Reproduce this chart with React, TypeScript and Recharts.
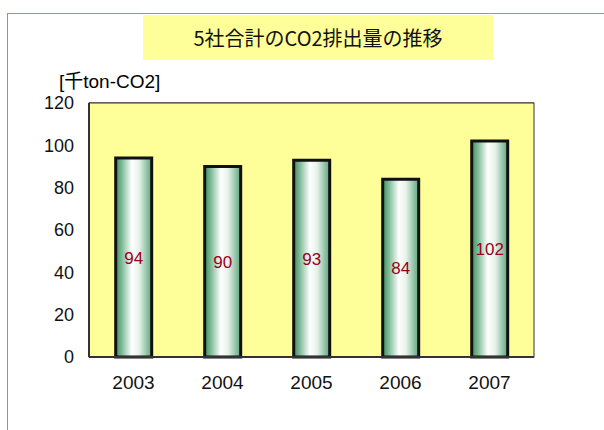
import { Bar, BarChart, CartesianGrid, LabelList, XAxis, YAxis } from "recharts";

const years = ["2003", "2004", "2005", "2006", "2007"];
const emissions = [94, 90, 93, 84, 102];
const yTicks = [0, 20, 40, 60, 80, 100, 120];

const data = years.map((year, i) => ({ year, value: emissions[i] }));

const FONT = "'Liberation Sans', Arial, sans-serif";

export default function App() {
  return (
    <div
      style={{
        position: "absolute",
        left: 0,
        top: 0,
        width: 604,
        height: 430,
        background: "#fff",
        overflow: "hidden",
        fontFamily: FONT,
      }}
    >
      <div
        style={{
          position: "absolute",
          left: 7,
          top: 13,
          width: 640,
          height: 460,
          borderTop: "1.5px solid #F27A35",
          borderLeft: "1.5px solid #F27A35",
        }}
      />
      <div
        style={{
          position: "absolute",
          left: 143,
          top: 15,
          width: 350,
          height: 45,
          background: "#FFFF99",
          display: "flex",
          alignItems: "center",
          justifyContent: "center",
          fontFamily: "'Noto Sans CJK JP', sans-serif",
          fontSize: 20,
          color: "#111",
        }}
      >
        5社合計のCO2排出量の推移
      </div>
      <div
        style={{
          position: "absolute",
          left: 59,
          top: 66,
          fontSize: 19,
          color: "#000",
          fontFamily: "'Liberation Sans', 'Noto Sans CJK JP', sans-serif",
        }}
      >
        [千ton-CO2]
      </div>
      <BarChart
        width={604}
        height={430}
        data={data}
        margin={{ top: 103, right: 70, left: 0, bottom: 43 }}
        barCategoryGap="30%"
        style={{ position: "absolute", left: 0, top: 0 }}
      >
        <defs>
          <linearGradient id="barFill" x1="0" y1="0" x2="1" y2="0">
            <stop offset="0%" stopColor="#3E8E60" />
            <stop offset="20%" stopColor="#8CC2A2" />
            <stop offset="45%" stopColor="#FFFFFF" />
            <stop offset="65%" stopColor="#E6F2EA" />
            <stop offset="100%" stopColor="#5BA67C" />
          </linearGradient>
        </defs>
        <rect x={89} y={103} width={445} height={254} fill="#FFFF99" stroke="#333" strokeWidth={1} />
        <CartesianGrid vertical={false} stroke="#222" strokeWidth={1} fill="#FFFF99" />
        <XAxis
          dataKey="year"
          tick={{ fontSize: 19, fill: "#111", fontFamily: FONT }}
          axisLine={{ stroke: "#333", strokeWidth: 2 }}
          tickLine={false}
          tickSize={0}
          tickMargin={19}
        />
        <YAxis
          domain={[0, 120]}
          ticks={yTicks}
          width={89}
          tick={{ fontSize: 18, fill: "#111", fontFamily: FONT }}
          axisLine={{ stroke: "#333", strokeWidth: 2 }}
          tickLine={false}
          tickSize={0}
          tickMargin={15}
        />
        <Bar
          dataKey="value"
          fill="url(#barFill)"
          stroke="#111"
          strokeWidth={3}
          isAnimationActive={false}
        >
          <LabelList
            dataKey="value"
            position="center"
            style={{ fontSize: 17, fill: "#99001A", fontFamily: FONT }}
          />
        </Bar>
      </BarChart>
    </div>
  );
}
